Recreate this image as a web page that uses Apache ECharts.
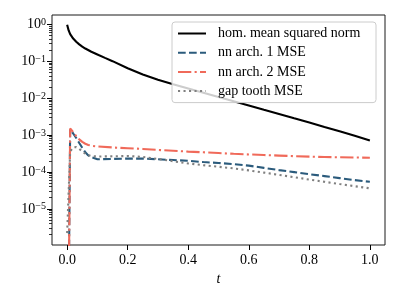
<!DOCTYPE html>
<html><head><meta charset="utf-8">
<script src="https://cdn.jsdelivr.net/npm/echarts@6/dist/echarts.min.js"></script>
<style>html,body{margin:0;padding:0;background:#fff}#c{width:400px;height:300px}</style>
</head><body><div id="c"></div>
<script>
// time samples for the homogeneous mean squared norm
const tHom = [0,0.005,0.01,0.02,0.03,0.04,0.05,0.06,0.08,0.1,0.125,0.15,0.2,0.25,0.3,0.35,0.4,0.45,0.5,0.55,0.6,0.65,0.7,0.75,0.8,0.85,0.9,0.95,1.0];
const homNorm = [0.97,0.68,0.54,0.41,0.335,0.285,0.248,0.22,0.18,0.152,0.123,0.1,0.0646,0.0437,0.0313,0.0237,0.0182,0.014,0.0107,0.0082,0.0063,0.00484,0.00372,0.00285,0.00219,0.00166,0.00126,0.00095,0.00071];
// time samples for the MSE curves (value at t=0 is ~0, shown as a tiny floor value)
const tMse = [0,0.01,0.02,0.03,0.04,0.05,0.06,0.07,0.08,0.1,0.15,0.2,0.25,0.3,0.35,0.4,0.45,0.5,0.55,0.6,0.65,0.7,0.75,0.8,0.85,0.9,0.95,1.0];
const nn1Mse = [1e-12,1.4e-3,1.1e-3,8.3e-4,6.1e-4,4.5e-4,3.4e-4,2.8e-4,2.5e-4,2.2e-4,2.25e-4,2.3e-4,2.3e-4,2.2e-4,2.1e-4,2.0e-4,1.85e-4,1.75e-4,1.62e-4,1.48e-4,1.29e-4,1.12e-4,9.9e-5,8.7e-5,7.7e-5,6.8e-5,6.0e-5,5.4e-5];
const nn2Mse = [1e-12,1.5e-3,1.2e-3,9.4e-4,7.6e-4,6.5e-4,5.8e-4,5.4e-4,5.1e-4,4.9e-4,4.6e-4,4.4e-4,4.2e-4,3.95e-4,3.75e-4,3.55e-4,3.4e-4,3.25e-4,3.1e-4,2.98e-4,2.87e-4,2.77e-4,2.68e-4,2.6e-4,2.54e-4,2.49e-4,2.46e-4,2.43e-4];
const gapMse = [2.2e-6,3.6e-4,4.6e-4,4.7e-4,4.2e-4,3.6e-4,3.1e-4,2.85e-4,2.7e-4,2.62e-4,2.65e-4,2.7e-4,2.55e-4,2.25e-4,1.95e-4,1.7e-4,1.52e-4,1.38e-4,1.25e-4,1.1e-4,9.6e-5,8.3e-5,7.2e-5,6.2e-5,5.4e-5,4.7e-5,4.1e-5,3.6e-5];
const seriesNames = ['hom. mean squared norm','nn arch. 1 MSE','nn arch. 2 MSE','gap tooth MSE'];
const xTicks = [0,0.2,0.4,0.6,0.8,1.0];
const yTicks = [1e-5,1e-4,1e-3,1e-2,1e-1,1];

const FONT = 'Liberation Serif';
const zip = (a, b) => a.map((v, i) => [v, b[i]]);
const chart = echarts.init(document.getElementById('c'), null, {renderer: 'canvas'});
const lw = 2.1;
chart.setOption({
  animation: false,
  grid: {left: 52, right: 15, top: 15, bottom: 55, show: true, borderColor: '#1a1a1a', borderWidth: 1, backgroundColor: 'transparent'},
  legend: {
    orient: 'vertical', left: 172, top: 22,
    itemWidth: 28, itemHeight: 14, itemGap: 5.2,
    padding: [4.5, 6, 4.5, 5],
    backgroundColor: 'rgba(255,255,255,0.8)', borderColor: '#cccccc', borderWidth: 1, borderRadius: 3,
    itemStyle: {opacity: 0},
    textStyle: {fontFamily: FONT, fontSize: 14, color: '#000', lineHeight: 14, padding: [0, 0, 0, 7], width: 152},
    data: seriesNames
  },
  xAxis: {
    type: 'value', min: -0.05, max: 1.05,
    splitLine: {show: false},
    axisLine: {show: false, onZero: false},
    axisTick: {show: true, length: 5, customValues: xTicks, lineStyle: {color: '#000', width: 1}},
    axisLabel: {customValues: xTicks, margin: 8, fontFamily: FONT, fontSize: 14, color: '#000', formatter: v => v.toFixed(1)},
    name: 't', nameLocation: 'middle', nameGap: 26,
    nameTextStyle: {fontFamily: FONT, fontSize: 14, fontStyle: 'italic', color: '#000'}
  },
  yAxis: {
    type: 'log', logBase: 10, min: 1.05e-6, max: 1.78,
    splitLine: {show: false},
    axisLine: {show: false, onZero: false},
    axisTick: {show: true, length: 5, customValues: yTicks, lineStyle: {color: '#000', width: 1}},
    minorTick: {show: true, splitNumber: 9, length: 3, lineStyle: {color: '#000', width: 0.8}},
    axisLabel: {
      customValues: yTicks, margin: 6, color: '#000',
      formatter: v => {
        const e = Math.round(Math.log10(v));
        return '{b|10}{s|' + (e < 0 ? '\u2212' + (-e) : String(e)) + '}';
      },
      rich: {
        b: {fontFamily: FONT, fontSize: 14, color: '#000'},
        s: {fontFamily: FONT, fontSize: 10, color: '#000', verticalAlign: 'top'}
      }
    }
  },
  series: [
    {name: seriesNames[0], type: 'line', data: zip(tHom, homNorm), symbol: 'none', clip: true,
     lineStyle: {color: '#000', width: lw}, itemStyle: {color: '#000'}},
    {name: seriesNames[1], type: 'line', data: zip(tMse, nn1Mse), symbol: 'none', clip: true,
     lineStyle: {color: '#2b5b7c', width: lw, type: [7.7, 3.3]}, itemStyle: {color: '#2b5b7c'}},
    {name: seriesNames[2], type: 'line', data: zip(tMse, nn2Mse), symbol: 'none', clip: true,
     lineStyle: {color: '#f06a5a', width: lw, type: [13.3, 3.3, 2.1, 3.3]}, itemStyle: {color: '#f06a5a'}},
    {name: seriesNames[3], type: 'line', data: zip(tMse, gapMse), symbol: 'none', clip: true,
     lineStyle: {color: '#808080', width: lw, type: [2.1, 3.4]}, itemStyle: {color: '#808080'}}
  ]
});
</script></body></html>
